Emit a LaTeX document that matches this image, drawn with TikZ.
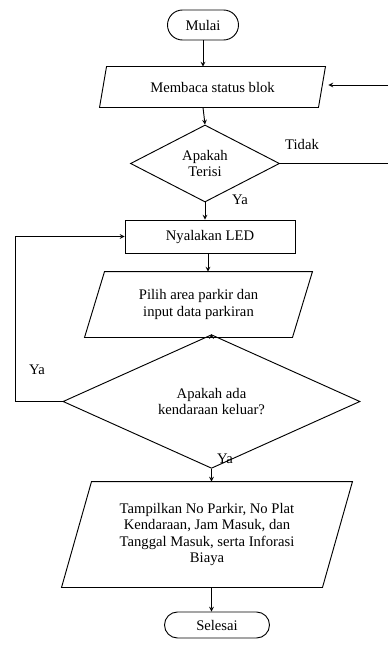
\documentclass[tikz,border=0pt]{standalone}
\usepackage{fontspec}
\setmainfont{Liberation Serif}
\usepackage{tikz}
\usetikzlibrary{arrows,shapes.geometric,shapes.misc,calc}
\newcommand{\jajar}[2]{\draw ($(#1.north west)+(#2,0)$) -- (#1.north east) -- ($(#1.south east)-(#2,0)$) -- (#1.south west) -- cycle;}

\begin{document}
\begin{tikzpicture}[x=0.03cm,y=-0.03cm,line width=0.8pt,>=stealth,
  font=\fontsize{12.5}{14}\selectfont,
  terminal/.style={draw,rounded rectangle,inner sep=0pt},
  proses/.style={draw,rectangle,inner sep=0pt},
  io/.style={rectangle,inner sep=0pt,align=center},
  keputusan/.style={draw,diamond,inner sep=0pt,align=center},
  label/.style={inner sep=1pt}]
\useasboundingbox (0,0) rectangle (388,646);
\node[terminal,minimum width=2.13cm,minimum height=0.9cm] (mulai) at (203,25) {Mulai};
\node[io,minimum width=6.75cm,minimum height=1.2cm] (baca) at (212.5,87) {Membaca status blok};
\jajar{baca}{7}
\node[keputusan,minimum width=4.47cm,minimum height=2.31cm] (terisi) at (205,163.5) {Apakah\\Terisi};
\node[proses,minimum width=5.1cm,minimum height=0.99cm] (led) at (210,236.5) {Nyalakan LED};
\node[io,minimum width=6.81cm,minimum height=1.95cm] (pilih) at (198.5,304.5) {Pilih area parkir dan\\input data parkiran};
\jajar{pilih}{20}
\node[keputusan,minimum width=8.91cm,minimum height=2.79cm] (keluar) at (211.5,401.5) {Apakah ada\\kendaraan keluar?};
\node[io,minimum width=8.7cm,minimum height=3.15cm] (tampil) at (207,534.5) {Tampilkan No Parkir, No Plat\\Kendaraan, Jam Masuk, dan\\Tanggal Masuk, serta Inforasi\\Biaya};
\jajar{tampil}{30}
\node[terminal,minimum width=3.15cm,minimum height=0.78cm] (selesai) at (217,625) {Selesai};
\coordinate (kanan1) at (388,85);
\coordinate (kanan2) at (388,163.5);
\coordinate (kiri) at (15,0);
\draw[->] (mulai.south) -- (mulai.south |- baca.north);
\draw[->] (mulai.south |- baca.south) -- (terisi.north);
\draw[->] (terisi.south) -- (terisi.south |- led.north);
\draw[->] (208,0 |- led.south) -- (208,0 |- pilih.north);
\draw[->] (keluar.north |- pilih.south) -- (keluar.north);
\draw[->] (keluar.south) -- (keluar.south |- tampil.north);
\draw[->] (keluar.south |- tampil.south) -- (keluar.south |- selesai.north);
\draw (terisi.east) -- (kanan2);
\draw[->] (kanan1) -- ($(baca.east)+(3,-2)$);
\draw[->] (keluar.west) -| (kiri |- led.west) -- (led.west);
\node[label] (tidak) at (302,144) {Tidak};
\node[label] (ya1) at (240,200) {Ya};
\node[label] (ya2) at (37,370) {Ya};
\node[label] (ya3) at (225,459) {Ya};
\end{tikzpicture}
\end{document}
